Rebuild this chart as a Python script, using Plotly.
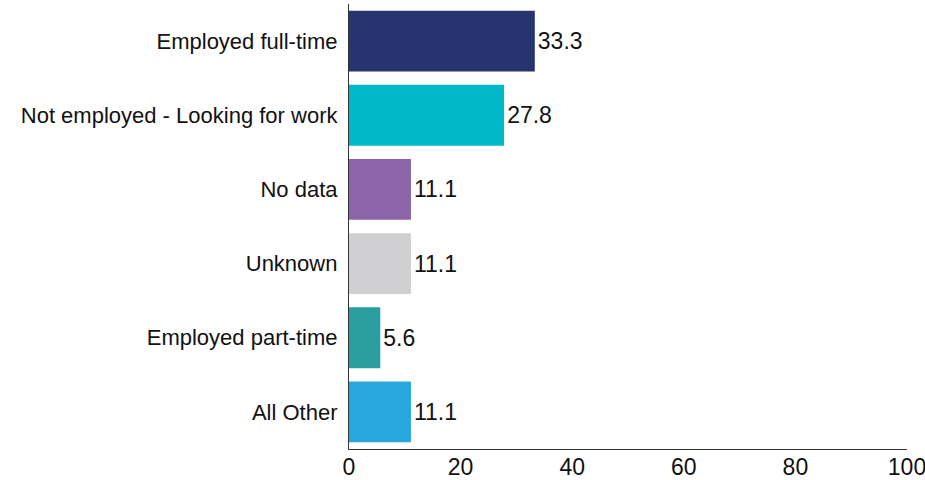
import plotly.graph_objects as go

categories = ["Employed full-time", "Not employed - Looking for work", "No data",
              "Unknown", "Employed part-time", "All Other"]
values = [33.3, 27.8, 11.1, 11.1, 5.6, 11.1]
colors = ["#263470", "#00B8C8", "#8B64AA", "#D0D0D2", "#2A9D9F", "#29A8E0"]
tick_vals = [0, 20, 40, 60, 80, 100]

fig = go.Figure(go.Bar(
    y=categories, x=values, orientation="h",
    marker=dict(color=colors, line=dict(width=0)),
    text=[f"{v:.1f}" for v in values], textposition="outside",
    textfont=dict(family="Liberation Sans, Arial", size=23, color="#111111"),
    cliponaxis=False,
))
fig.update_layout(
    width=925, height=480,
    margin=dict(l=349, r=18, t=4, b=31, autoexpand=False),
    plot_bgcolor="white", paper_bgcolor="white",
    bargap=0.18, showlegend=False,
    font=dict(family="Liberation Sans, Arial", size=22, color="#111111"),
)
fig.update_xaxes(range=[0, 100], tickvals=tick_vals, showgrid=False, zeroline=False,
                 showline=True, linecolor="#333333", linewidth=1, ticks="",
                 ticklabeloverflow="allow", ticklabelstandoff=-3,
                 tickfont=dict(size=23))
fig.update_yaxes(autorange="reversed", showgrid=False, zeroline=False,
                 showline=True, linecolor="#333333", linewidth=1, ticks="",
                 ticksuffix=" ", tickfont=dict(size=22))
fig.write_html("out.html", config={"displayModeBar": False},
               post_script="document.body.style.margin='0';document.body.style.overflow='hidden';")
